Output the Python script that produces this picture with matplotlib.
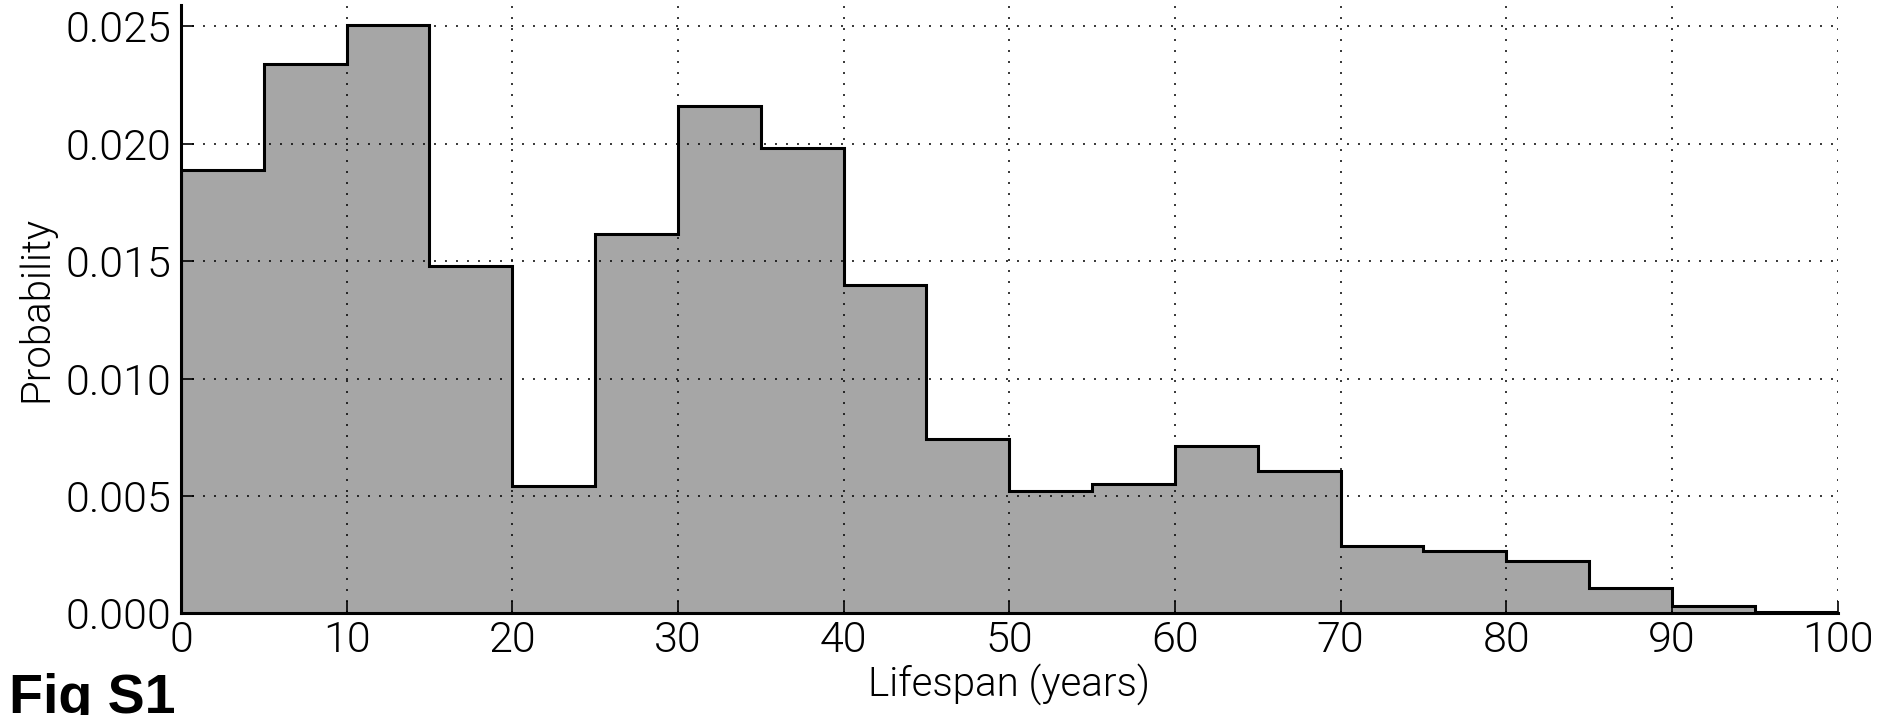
import matplotlib
matplotlib.use("Agg")
import matplotlib.pyplot as plt
from matplotlib.ticker import FormatStrFormatter

# histogram of lifespans, 5-year bins, density
bin_edges = [0, 5, 10, 15, 20, 25, 30, 35, 40, 45, 50,
             55, 60, 65, 70, 75, 80, 85, 90, 95, 100]
probability = [0.01888, 0.02341, 0.02504, 0.01477, 0.00544,
               0.01617, 0.02158, 0.01983, 0.01399, 0.00741,
               0.00521, 0.00552, 0.00711, 0.00605, 0.00289,
               0.00266, 0.00224, 0.00109, 0.00030, 0.00006]
x_ticks = list(range(0, 101, 10))
y_ticks = [0.000, 0.005, 0.010, 0.015, 0.020, 0.025]

plt.rcParams['font.family'] = ['Roboto', 'DejaVu Sans']
plt.rcParams['font.weight'] = 300
plt.rcParams['axes.labelweight'] = 300

fig = plt.figure(figsize=(18.79, 7.15), dpi=100)
ax = fig.add_axes([0.0963, 0.142, 0.978 - 0.0963, 0.993 - 0.142])

ax.stairs(probability, bin_edges, fill=True, facecolor='#a6a6a6',
          edgecolor='none', zorder=1)
ax.stairs(probability, bin_edges, baseline=0, color='black', lw=2.2,
          zorder=3)

ax.set_xlim(0, 100)
ax.set_ylim(0, 0.0259)
ax.set_xticks(x_ticks)
ax.set_yticks(y_ticks)
ax.yaxis.set_major_formatter(FormatStrFormatter('%.3f'))

ax.grid(True, color='black', lw=1.1, linestyle=(0, (1.3, 5.9)), zorder=2)
ax.set_axisbelow(False)

for side in ['top', 'right']:
    ax.spines[side].set_visible(False)
for side in ['left', 'bottom']:
    ax.spines[side].set_linewidth(2.2)
    ax.spines[side].set_zorder(4)

ax.tick_params(direction='in', length=9, width=1.2, labelsize=31,
               top=False, right=False)
ax.tick_params(axis='x', pad=5)
ax.tick_params(axis='y', pad=7)

ax.set_xlabel('Lifespan (years)', fontsize=29, labelpad=1)
ax.set_ylabel('Probability', fontsize=29, labelpad=7)

fig.text(0.005, 0.003, 'Fig S1', fontsize=40, fontweight='bold',
         family=['Liberation Sans', 'DejaVu Sans'], va='baseline', ha='left')

fig.savefig('out.png', dpi=100)
